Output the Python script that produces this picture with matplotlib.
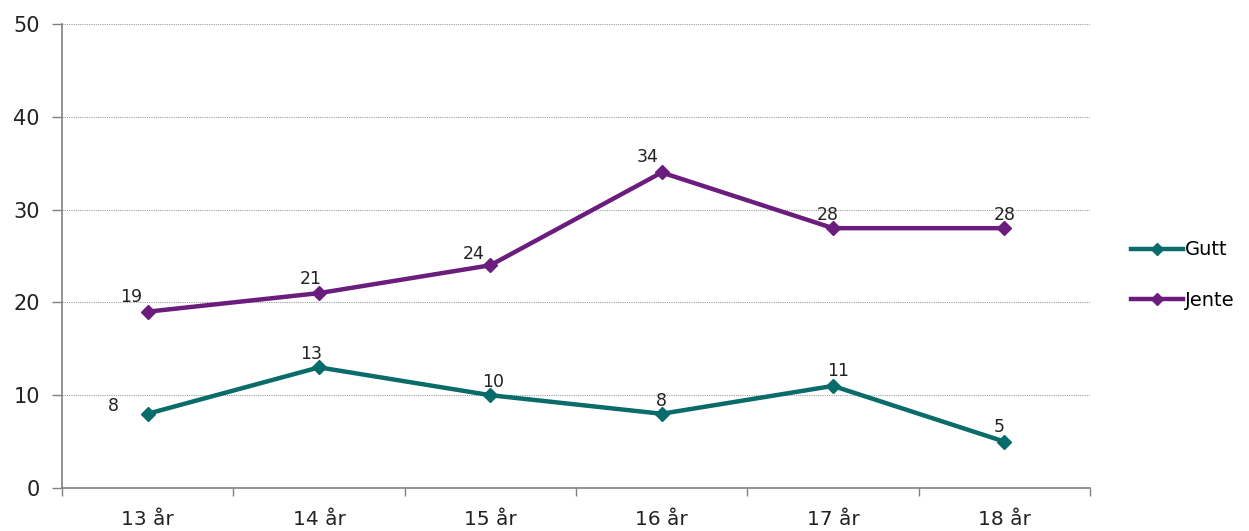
import matplotlib
matplotlib.use("Agg")
from matplotlib import pyplot as plt
from matplotlib.ticker import FixedLocator, MultipleLocator
import numpy as np

ages = ["13 år", "14 år", "15 år", "16 år", "17 år", "18 år"]
gutt = [8, 13, 10, 8, 11, 5]
jente = [19, 21, 24, 34, 28, 28]

# label offsets in points (dx, dy) per point
gutt_offsets = [(-25, -1), (-6, 3), (2, 3), (0, 3), (4, 4), (-4, 4)]
jente_offsets = [(-12, 4), (-6, 4), (-12, 2), (-10, 5), (-4, 3), (0, 3)]

TEAL = "#0a6b6b"
PURPLE = "#6b1d7e"

fig = plt.figure(figsize=(12.49, 5.31), dpi=100)
ax = fig.add_axes([62 / 1249, 43 / 531, 1028 / 1249, 464 / 531])

x = np.arange(len(ages))
l1, = ax.plot(x, gutt, color=TEAL, lw=3.2, marker="D", ms=7, label="Gutt")
l2, = ax.plot(x, jente, color=PURPLE, lw=3.2, marker="D", ms=7, label="Jente")

for xs, vals, offs in ((x, gutt, gutt_offsets), (x, jente, jente_offsets)):
    for xi, v, (dx, dy) in zip(xs, vals, offs):
        ax.annotate(str(v), (xi, v), xytext=(dx, dy), textcoords="offset points",
                    ha="center", va="bottom", fontsize=12.5, color="#222222")

ax.set_xlim(-0.5, len(ages) - 0.5)
ax.set_ylim(0, 50)
ax.yaxis.set_major_locator(MultipleLocator(10))
ax.set_xticks(x)
ax.set_xticklabels(ages)
ax.xaxis.set_minor_locator(FixedLocator(np.arange(-0.5, len(ages), 1.0)))
ax.tick_params(axis="x", which="major", length=0, pad=16, labelsize=14.5, labelcolor="#222222")
ax.tick_params(axis="x", which="minor", length=6, color="#808080", width=1)
ax.tick_params(axis="y", length=7, color="#808080", width=1, labelsize=15,
               labelcolor="#222222", pad=9)

ax.grid(axis="y", color="#a0a0a0", linestyle=(0, (1, 1)), linewidth=0.8)
ax.set_axisbelow(True)
for side in ("top", "right"):
    ax.spines[side].set_visible(False)
for side in ("left", "bottom"):
    ax.spines[side].set_color("#808080")
    ax.spines[side].set_linewidth(1.2)

fig.legend(handles=[l1, l2], loc="center left", bbox_to_anchor=(1113 / 1249, 1 - 275 / 531),
           frameon=False, fontsize=14, handlelength=2.7, handletextpad=0.1,
           labelspacing=1.6, markerscale=0.9)

fig.savefig("out.png", dpi=100)
